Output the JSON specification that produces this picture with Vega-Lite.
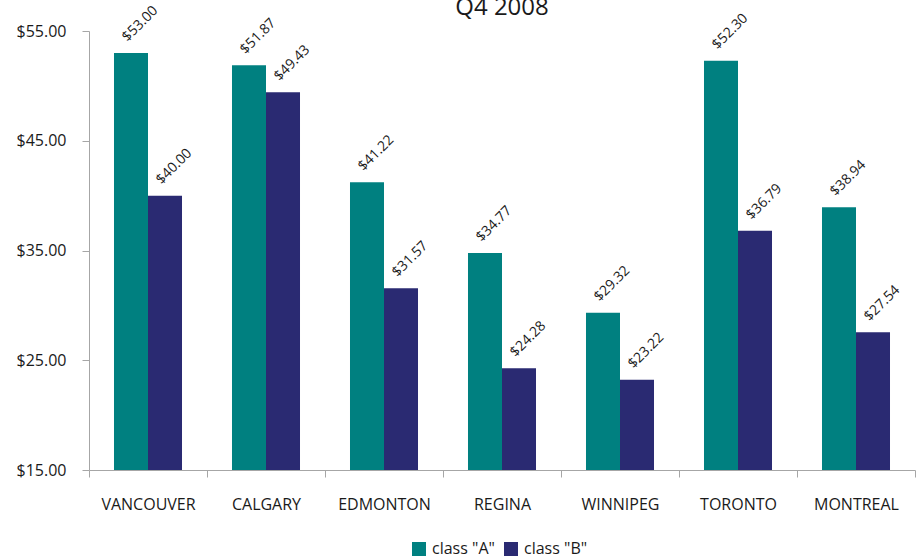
{
  "$schema": "https://vega.github.io/schema/vega-lite/v6.json",
  "width": 826,
  "height": 439,
  "autosize": {"type": "none"},
  "padding": {"left": 89, "top": 31, "right": 8, "bottom": 89},
  "background": "white",
  "title": {"text": "Q4 2008", "fontSize": 24, "font": "Open Sans", "fontWeight": "normal", "color": "#1a1a1a", "anchor": "middle", "offset": -13, "dy": 3},
  "data": {"values": [
    {"city": "VANCOUVER", "class": "class \"A\"", "price": 53.00},
    {"city": "VANCOUVER", "class": "class \"B\"", "price": 40.00},
    {"city": "CALGARY", "class": "class \"A\"", "price": 51.87},
    {"city": "CALGARY", "class": "class \"B\"", "price": 49.43},
    {"city": "EDMONTON", "class": "class \"A\"", "price": 41.22},
    {"city": "EDMONTON", "class": "class \"B\"", "price": 31.57},
    {"city": "REGINA", "class": "class \"A\"", "price": 34.77},
    {"city": "REGINA", "class": "class \"B\"", "price": 24.28},
    {"city": "WINNIPEG", "class": "class \"A\"", "price": 29.32},
    {"city": "WINNIPEG", "class": "class \"B\"", "price": 23.22},
    {"city": "TORONTO", "class": "class \"A\"", "price": 52.30},
    {"city": "TORONTO", "class": "class \"B\"", "price": 36.79},
    {"city": "MONTREAL", "class": "class \"A\"", "price": 38.94},
    {"city": "MONTREAL", "class": "class \"B\"", "price": 27.54}
  ]},
  "encoding": {
    "x": {
      "field": "city", "type": "nominal", "sort": null,
      "scale": {"paddingInner": 0, "paddingOuter": 0},
      "axis": {"title": null, "labelAngle": 0, "tickBand": "extent", "tickSize": 7, "labelPadding": 19,
               "labelFontSize": 16, "labelFont": "Open Sans", "labelColor": "#1a1a1a",
               "domainColor": "#a6a6a6", "tickColor": "#a6a6a6", "grid": false}
    },
    "xOffset": {"field": "class", "type": "nominal", "scale": {"paddingInner": 0, "paddingOuter": 0.735}},
    "y": {
      "field": "price", "type": "quantitative",
      "scale": {"domain": [15, 55], "zero": false, "nice": false},
      "axis": {"title": null, "values": [15, 25, 35, 45, 55], "format": "$.2f", "tickSize": 7, "labelPadding": 16,
               "labelFontSize": 16, "labelFont": "Open Sans", "labelColor": "#1a1a1a",
               "domainColor": "#a6a6a6", "tickColor": "#a6a6a6", "grid": false}
    }
  },
  "layer": [
    {
      "mark": {"type": "bar"},
      "encoding": {
        "y2": {"datum": 15},
        "color": {
          "field": "class", "type": "nominal",
          "scale": {"range": ["#008080", "#2a2a72"]},
          "legend": {"orient": "none", "legendX": 322, "legendY": 510, "padding": 0, "direction": "horizontal", "title": null, "symbolType": "square",
                     "symbolSize": 196, "symbolStrokeWidth": 0, "symbolOpacity": 1, "labelFontSize": 16,
                     "labelFont": "Open Sans", "labelColor": "#1a1a1a", "labelOffset": 5, "columnPadding": 8}
        }
      }
    },
    {
      "mark": {"type": "text", "align": "center", "baseline": "middle", "dx": 27, "dy": -14,
               "fontSize": 14, "font": "Open Sans", "color": "#1a1a1a"},
      "encoding": {
        "text": {"field": "price", "type": "quantitative", "format": "$.2f"},
        "angle": {"value": -45}
      }
    }
  ],
  "config": {"view": {"stroke": null}}
}
